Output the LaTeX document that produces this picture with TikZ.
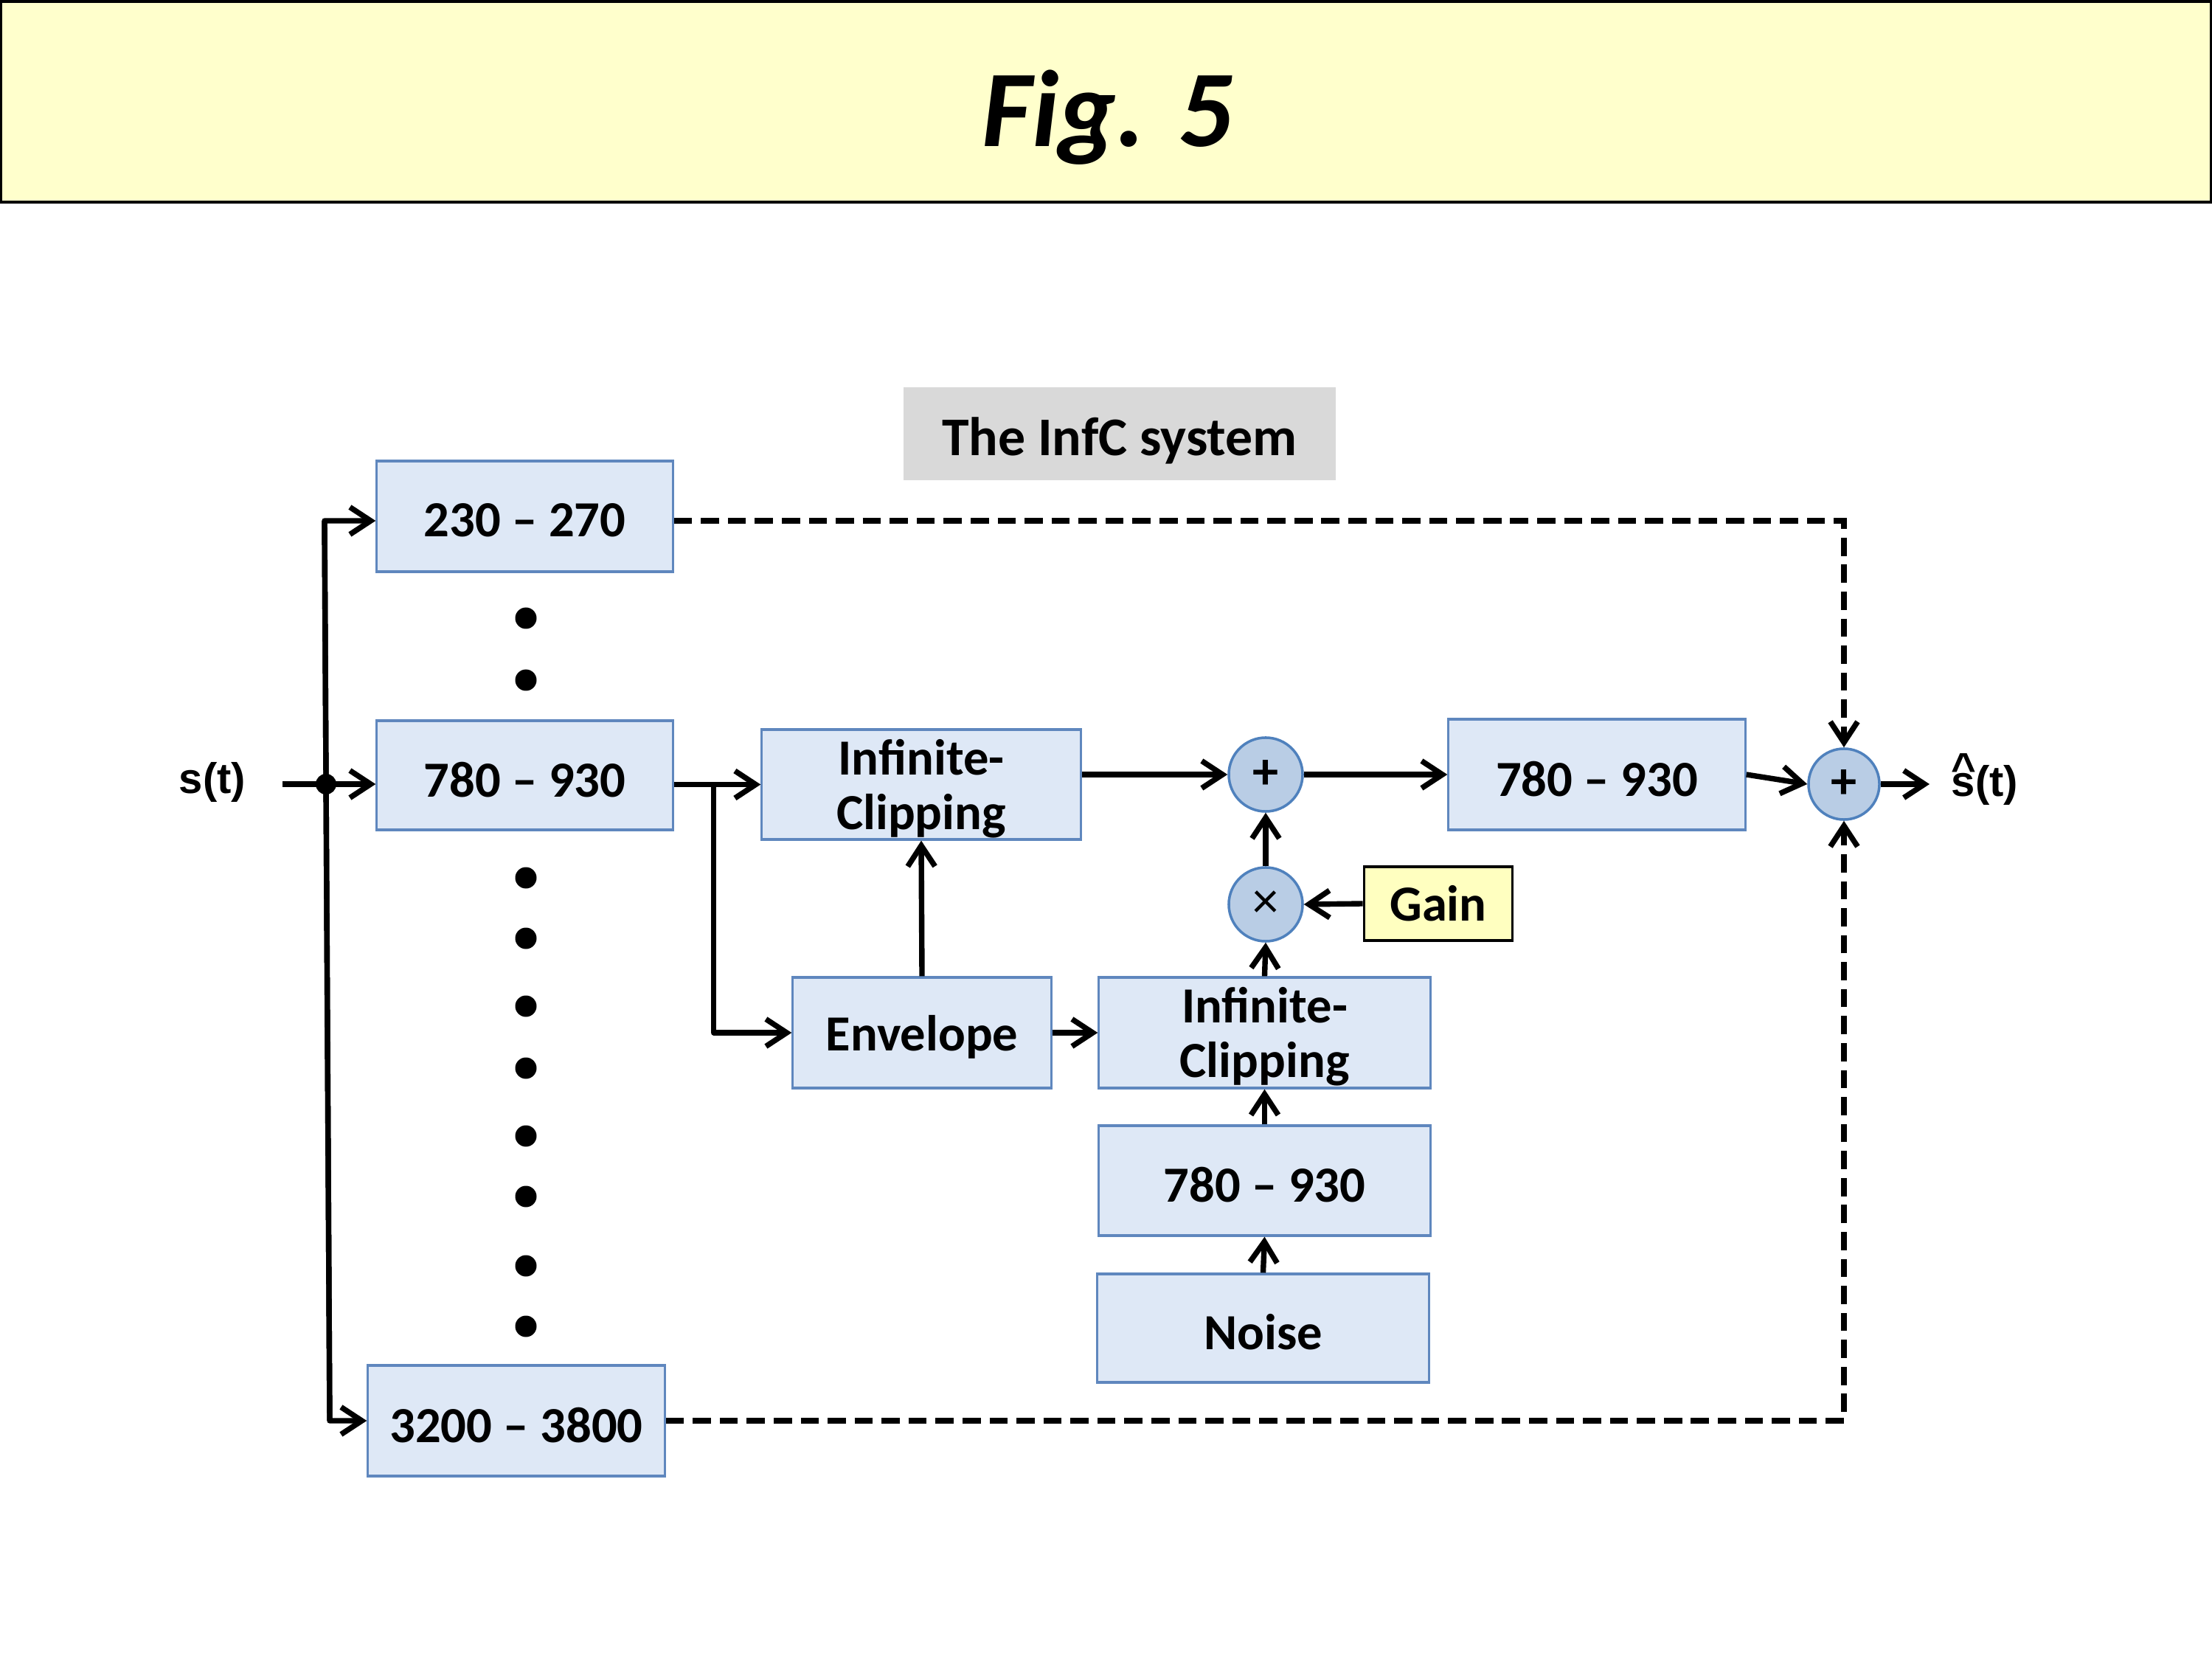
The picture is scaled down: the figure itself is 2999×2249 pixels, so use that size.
\documentclass[tikz,border=0pt]{standalone}
\usepackage{fontspec}
\setmainfont{Carlito}
\newfontfamily\arialfont{Liberation Sans}
\usetikzlibrary{arrows.meta}
\definecolor{boxfill}{RGB}{222,232,246}
\definecolor{boxline}{RGB}{95,135,190}
\definecolor{circfill}{RGB}{185,205,229}
\definecolor{circline}{RGB}{79,129,189}
\definecolor{bannerfill}{RGB}{255,255,204}
\definecolor{gainfill}{RGB}{255,255,192}
\definecolor{infcgray}{RGB}{217,217,217}
\newcommand\lowtxt[2]{\raisebox{-#1}[\height][\depth]{#2}}
\newcommand\twoline[2]{\lowtxt{2.6pt}{\begin{tabular}{@{}c@{}}#1\\#2\end{tabular}}}
\begin{document}
\begin{tikzpicture}[x=0.01cm,y=-0.01cm,
  blk/.style={draw=boxline, fill=boxfill, line width=0.9pt, inner sep=0pt,
    font=\fontsize{19.5}{21}\selectfont\bfseries, align=center},
  sumc/.style={circle, draw=circline, fill=circfill, line width=1pt,
    minimum size=1cm, inner sep=0pt, font=\fontsize{20}{22}\selectfont},
  arr/.style={line width=2.1pt, line join=round, -{Straight Barb[length=8pt,width=10.5pt]}},
  dsh/.style={line width=2.1pt, dash pattern=on 7pt off 3.4pt,
    -{Straight Barb[length=8pt,width=10.5pt]}},
  lbl/.style={font=\arialfont\bfseries\fontsize{16.5}{18}\selectfont, inner sep=0pt}
]
\useasboundingbox (0,0) rectangle (2999,2249);
\fill[white] (0,0) rectangle (2999,2249);
% banner
\node[draw=black, fill=bannerfill, line width=1.2pt, minimum width=29.95cm,
  minimum height=2.72cm, inner sep=0pt] (banner) at (1499.5,138) {};
\node[anchor=base, inner sep=0pt, font=\fontsize{42}{46}\selectfont\bfseries\itshape]
  (title) at (1502,199) {Fig. 5};
% system label
\node[fill=infcgray, minimum width=5.86cm, minimum height=1.25cm, inner sep=0pt,
  font=\fontsize{21}{24}\selectfont\bfseries] (infc) at (1518,588)
  {\lowtxt{2.8pt}{The InfC system}};
% filter bank boxes
\node[blk, minimum width=4.01cm, minimum height=1.5cm] (b1) at (711.5,700) {\lowtxt{1.6pt}{230 – 270}};
\node[blk, minimum width=4.01cm, minimum height=1.48cm] (b2) at (711.5,1051) {\lowtxt{1.6pt}{780 – 930}};
\node[blk, minimum width=4.02cm, minimum height=1.5cm] (b3) at (700,1926) {\lowtxt{1.6pt}{3200 – 3800}};
% processing chain
\node[blk, minimum width=4.32cm, minimum height=1.49cm] (ic1) at (1249,1063.5) {\twoline{Infinite-}{Clipping}};
\node[blk, minimum width=3.5cm, minimum height=1.5cm] (env) at (1250,1400) {\lowtxt{1.6pt}{Envelope}};
\node[blk, minimum width=4.49cm, minimum height=1.5cm] (ic2) at (1714.5,1400) {\twoline{Infinite-}{Clipping}};
\node[blk, minimum width=4.49cm, minimum height=1.49cm] (f2) at (1714.5,1600.5) {\lowtxt{1.6pt}{780 – 930}};
\node[blk, minimum width=4.49cm, minimum height=1.47cm] (noise) at (1712.5,1800.5) {\lowtxt{1.6pt}{Noise}};
\node[blk, minimum width=4.02cm, minimum height=1.5cm] (f3) at (2165,1050) {\lowtxt{1.6pt}{780 – 930}};
\node[draw=black, fill=gainfill, line width=1pt, minimum width=2.01cm, minimum height=1cm,
  inner sep=0pt, font=\fontsize{19.5}{21}\selectfont\bfseries] (gain) at (1950,1225) {Gain};
% circles
\node[sumc] (s1) at (1716,1050) {\bfseries +};
\node[sumc] (mul) at (1716,1226) {×};
\node[sumc, minimum size=0.96cm] (s2) at (2500,1063) {\bfseries +};
% input / output labels
\node[lbl, anchor=base] (st) at (288,1075) {s(t)};
\node[lbl, anchor=base] (sh) at (2691,1079)
  {\makebox[0pt][l]{\makebox[0.556em]{\raisebox{0.3em}{\textasciicircum}}}s(t)};
% coordinates
\coordinate (inp) at (383,1063);
\coordinate (jn) at (442,1063);
\coordinate (bt) at (440,706);
\coordinate (bb) at (447,1926);
\coordinate (outp) at (2616,1063);
\path (b2.east |- ic1) ++(54,0) coordinate (br);
% input and bus
\draw[arr] (inp) -- (b2.west |- jn);
\fill (jn) circle (14);
\draw[arr] (bb) -- (bt) -- (b1.west |- bt);
\draw[arr] (bt) -- (bb) -- (b3.west |- bb);
% dots
\foreach \yy in {838,922,1190,1272,1364,1448,1540,1622,1716,1798}
  \fill (713,\yy) circle (14.5);
% main chain
\draw[arr] (b2.east |- ic1) -- (ic1.west);
\draw[arr] (br) |- (env.west);
\draw[arr] (env.north) -- (ic1.south);
\draw[arr] (env.east) -- (ic2.west);
\draw[arr] (ic1.east |- s1) -- (s1.west);
\draw[arr] (s1.east) -- (f3.west);
\draw[arr] (f3.east) -- (s2.west);
\draw[arr] (s2.east) -- (outp);
\draw[arr] (noise.north) -- (f2.south);
\draw[arr] (f2.north) -- (ic2.south);
\draw[arr] (ic2.north) -- (mul.south);
\draw[arr] (mul.north) -- (s1.south);
\draw[arr] (gain.west) -- (mul.east);
% dashed bypasses
\draw[dsh] (b1.east |- bt) -- (s2 |- bt) -- (s2.north);
\draw[dsh] (b3.east |- bb) -- (s2 |- bb) -- (s2.south);
\end{tikzpicture}
\end{document}
